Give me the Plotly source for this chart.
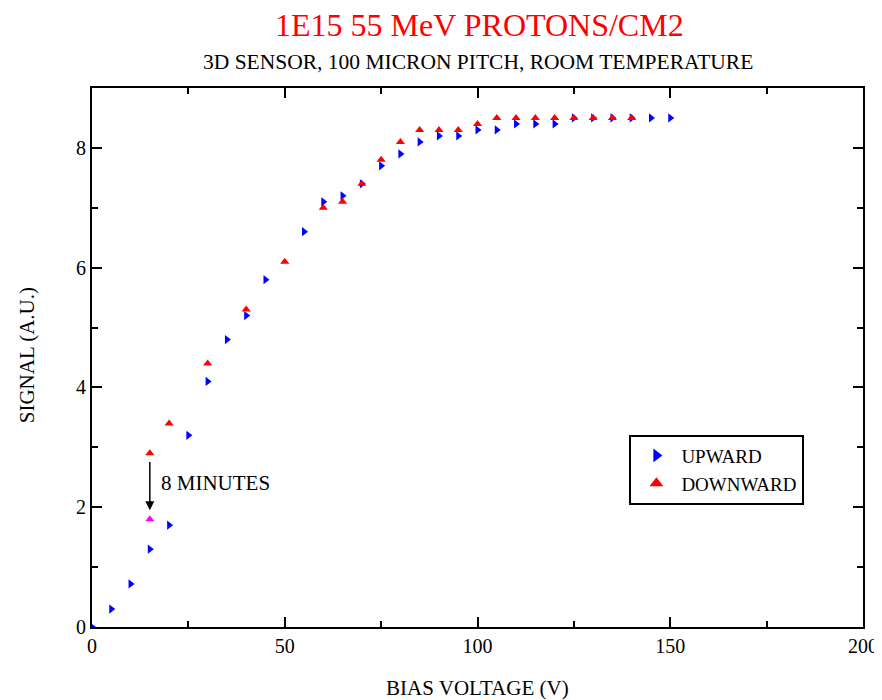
import plotly.graph_objects as go

up_v = [0, 5, 10, 15, 20, 25, 30, 35, 40, 45, 55, 60, 65, 70, 75, 80, 85, 90, 95, 100,
        105, 110, 115, 120, 125, 130, 135, 140, 145, 150]
up_s = [0.0, 0.3, 0.72, 1.3, 1.7, 3.2, 4.1, 4.8, 5.2, 5.8, 6.6, 7.1, 7.2, 7.4, 7.7, 7.9, 8.1, 8.2, 8.2, 8.3,
        8.3, 8.4, 8.4, 8.4, 8.5, 8.5, 8.5, 8.5, 8.5, 8.5]

down_v = [15, 20, 30, 40, 50, 60, 65, 70, 75, 80, 85, 90, 95, 100, 105, 110, 115, 120,
          125, 130, 135, 140]
down_s = [2.9, 3.4, 4.4, 5.3, 6.1, 7.0, 7.1, 7.4, 7.8, 8.1, 8.3, 8.3, 8.3, 8.4, 8.5, 8.5, 8.5, 8.5,
          8.5, 8.5, 8.5, 8.5]

after_v = [15]
after_s = [1.8]

FONT = "Liberation Serif"

fig = go.Figure()
fig.add_trace(go.Scatter(x=up_v, y=up_s, mode="markers", name="UPWARD",
                         marker=dict(symbol="triangle-right", size=8, color="#0000ff")))
fig.add_trace(go.Scatter(x=down_v, y=down_s, mode="markers", name="DOWNWARD",
                         marker=dict(symbol="triangle-up", size=8, color="#ff0000")))
fig.add_trace(go.Scatter(x=after_v, y=after_s, mode="markers", showlegend=False,
                         marker=dict(symbol="triangle-up", size=8, color="#ff00ff")))

fig.add_annotation(x=15, y=1.95, ax=15, ay=2.78, xref="x", yref="y", axref="x", ayref="y",
                   showarrow=True, arrowhead=2, arrowsize=1.2, arrowwidth=1.5, arrowcolor="black", text="")
fig.add_annotation(x=17.3, y=2.4, xref="x", yref="y", text="8 MINUTES", showarrow=False,
                   xanchor="left", yanchor="middle", font=dict(family=FONT, size=21, color="black"))

# titles and axis titles as annotations
fig.add_annotation(x=0.503, y=1.117, xref="paper", yref="paper", showarrow=False,
                   text="1E15 55 MeV PROTONS/CM2", xanchor="center", yanchor="middle",
                   font=dict(family=FONT, size=32, color="#ff0000"))
fig.add_annotation(x=0.501, y=1.048, xref="paper", yref="paper", showarrow=False,
                   text="3D SENSOR, 100 MICRON PITCH, ROOM TEMPERATURE", xanchor="center", yanchor="middle",
                   font=dict(family=FONT, size=21.5, color="black"))
fig.add_annotation(x=0.5, y=-0.113, xref="paper", yref="paper", showarrow=False,
                   text="BIAS VOLTAGE (V)", xanchor="center", yanchor="middle",
                   font=dict(family=FONT, size=21, color="black"))
fig.add_annotation(x=-0.085, y=0.505, xref="paper", yref="paper", showarrow=False,
                   text="SIGNAL (A.U.)", xanchor="center", yanchor="middle", textangle=-90,
                   font=dict(family=FONT, size=21, color="black"))

fig.update_layout(
    width=882, height=700,
    margin=dict(l=84, r=27, t=80, b=81, autoexpand=False),
    paper_bgcolor="white", plot_bgcolor="white",
    font=dict(family=FONT, size=20, color="black"),
    showlegend=True,
    legend=dict(x=0.697, y=0.357, xanchor="left", yanchor="top",
                bordercolor="black", borderwidth=2, bgcolor="white",
                font=dict(family=FONT, size=19), itemsizing="constant", tracegroupgap=0,
                itemwidth=40),
)

fig.update_xaxes(range=[0, 200], tickvals=[0, 50, 100, 150, 200],
                 ticks="inside", ticklen=10, tickwidth=2, tickcolor="black",
                 minor=dict(tickvals=[25, 75, 125, 175], ticks="inside", ticklen=6, tickwidth=2, tickcolor="black"),
                 showline=True, linecolor="black", linewidth=2, mirror="allticks",
                 showgrid=False, zeroline=False, automargin=False)
fig.update_yaxes(range=[0, 9], tickvals=[0, 2, 4, 6, 8],
                 ticks="inside", ticklen=10, tickwidth=2, tickcolor="black",
                 minor=dict(tickvals=[1, 3, 5, 7], ticks="inside", ticklen=6, tickwidth=2, tickcolor="black"),
                 showline=True, linecolor="black", linewidth=2, mirror="allticks",
                 showgrid=False, zeroline=False, automargin=False)

fig.write_html("out.html")
